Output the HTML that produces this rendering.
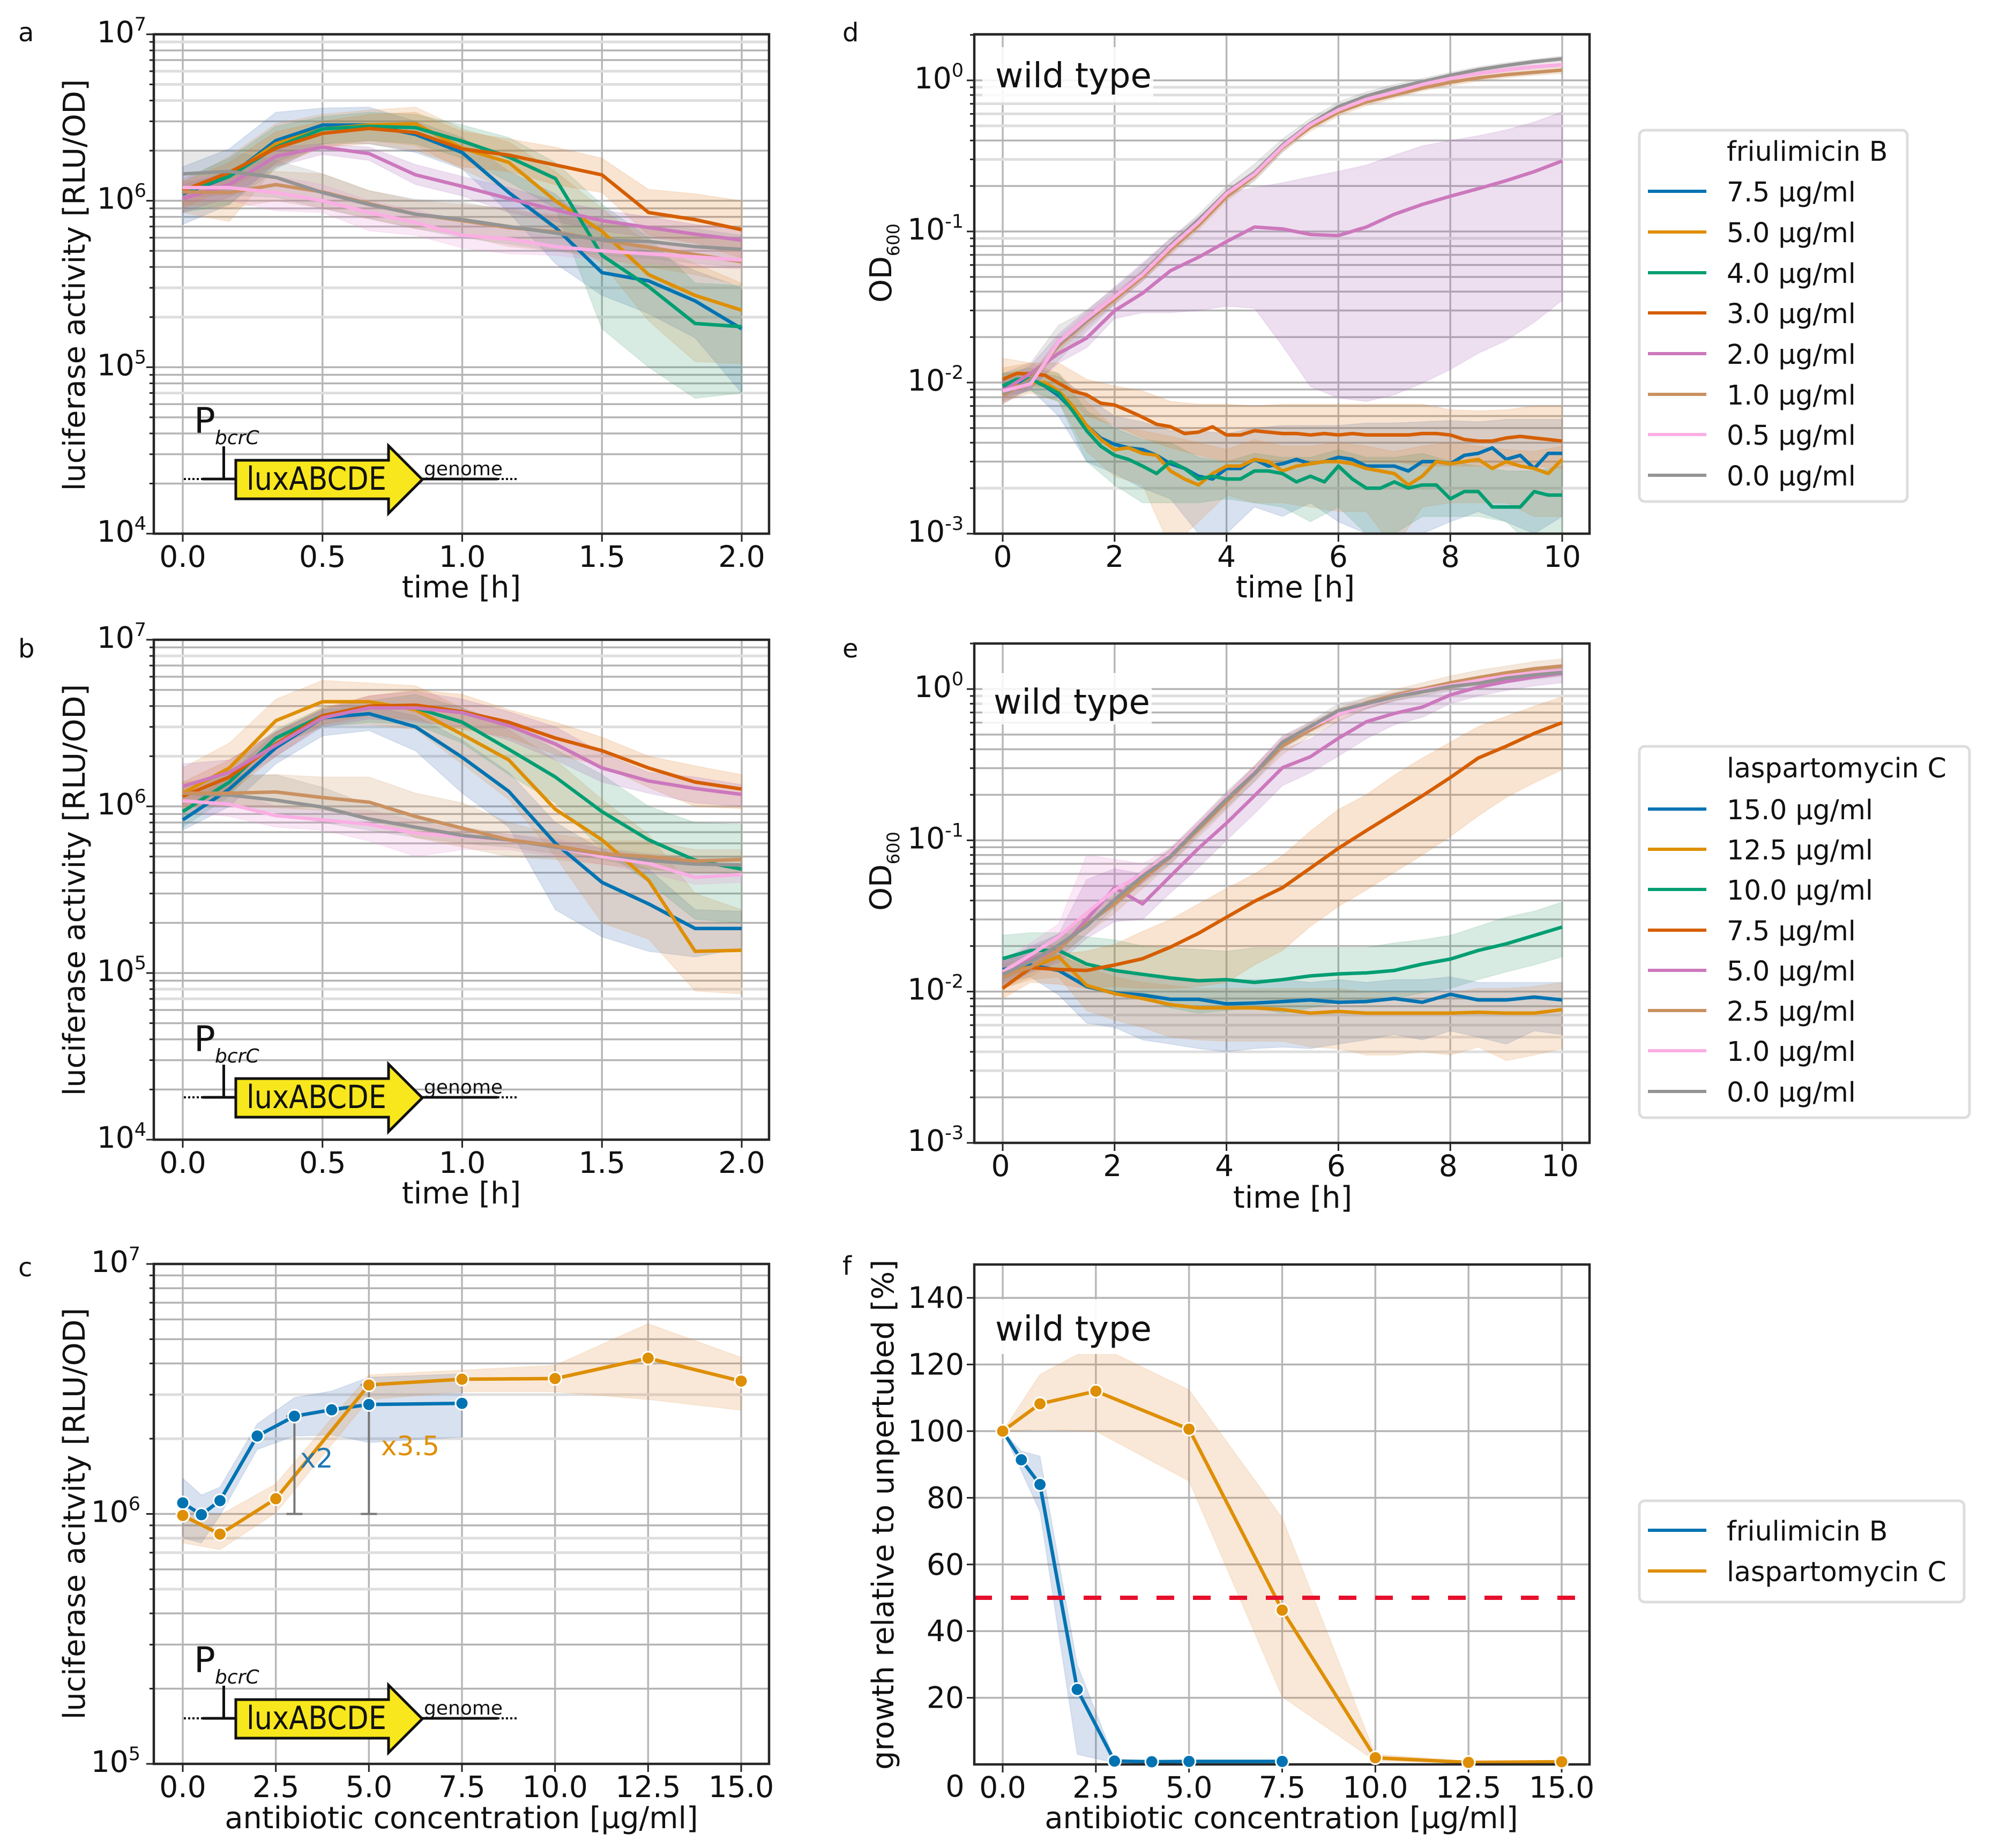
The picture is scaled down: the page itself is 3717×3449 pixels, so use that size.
<!DOCTYPE html>
<html lang="en">
<head>
<meta charset="utf-8">
<title>Luciferase activity and growth under friulimicin B and laspartomycin C</title>
<style>
html,body{margin:0;padding:0;background:#fff}
svg{display:block;position:absolute;left:0;top:0}
text{font-family:"DejaVu Sans","Liberation Sans",sans-serif;fill:#111}
.axt{font-size:55.7px}
.let{font-size:48px}
.leg{font-size:50.5px}
.wt{font-size:64px}
</style>
</head>
<body>
<svg id="figure" width="3717" height="3449" viewBox="0 0 3717 3449" xmlns="http://www.w3.org/2000/svg">
<rect x="0" y="0" width="3717" height="3449" fill="#fff"/>
<g id="marks"></g>

<!-- panel letters -->
<text class="let" x="34" y="77">a</text>
<text class="let" x="34" y="1227">b</text>
<text class="let" x="34" y="2382">c</text>
<text class="let" x="1572" y="77">d</text>
<text class="let" x="1572" y="1227">e</text>
<text class="let" x="1572" y="2379">f</text>

<!-- axis titles -->
<text class="axt" transform="translate(158,532) rotate(-90)" text-anchor="middle">luciferase activity [RLU/OD]</text>
<text class="axt" transform="translate(158,1661) rotate(-90)" text-anchor="middle">luciferase activity [RLU/OD]</text>
<text class="axt" transform="translate(158,2825) rotate(-90)" text-anchor="middle">luciferase acitvity [RLU/OD]</text>
<text class="axt" transform="translate(1663,491) rotate(-90)" text-anchor="middle">OD<tspan dy="15" font-size="32">600</tspan></text>
<text class="axt" transform="translate(1663,1626) rotate(-90)" text-anchor="middle">OD<tspan dy="15" font-size="32">600</tspan></text>
<text class="axt" transform="translate(1667,2827) rotate(-90)" text-anchor="middle">growth relative to unpertubed [%]</text>
<text class="axt" x="861" y="1115" text-anchor="middle">time [h]</text>
<text class="axt" x="861" y="2246" text-anchor="middle">time [h]</text>
<text class="axt" x="861" y="3412" text-anchor="middle">antibiotic concentration [µg/ml]</text>
<text class="axt" x="2417" y="1115" text-anchor="middle">time [h]</text>
<text class="axt" x="2412" y="2254" text-anchor="middle">time [h]</text>
<text class="axt" x="2391" y="3412" text-anchor="middle">antibiotic concentration [µg/ml]</text>
<text class="axt" x="1782" y="3353" text-anchor="middle">0</text>

<!-- annotations panel c -->
<text x="560" y="2739" font-size="50" style="fill:#1f78b4">x2</text>
<text x="711" y="2716" font-size="50" style="fill:#de8f05">x3.5</text>

<!-- wild type labels -->
<g>
<rect x="1833" y="88" width="319" height="103" fill="#fff" fill-opacity="0.85"/>
<text class="wt" x="1857" y="163">wild type</text>
</g>
<g>
<rect x="1833" y="1256" width="316" height="96" fill="#fff" fill-opacity="0.85"/>
<text class="wt" x="1854" y="1332">wild type</text>
</g>
<g>
<rect x="1833" y="2425" width="319" height="102" fill="#fff" fill-opacity="0.92"/>
<text class="wt" x="1857" y="2502">wild type</text>
</g>

<!-- schematics -->
<g>
<line x1="343" y1="894" x2="378" y2="894" stroke="#111" stroke-width="4" stroke-dasharray="4 4"/>
<line x1="378" y1="894" x2="440" y2="894" stroke="#111" stroke-width="5"/>
<line x1="417.5" y1="833" x2="417.5" y2="894" stroke="#111" stroke-width="5"/>
<polygon points="440,859 725,859 725,832 788,895 725,958 725,931 440,931" fill="#f8e71c" stroke="#111" stroke-width="5"/>
<line x1="788" y1="894" x2="928" y2="894" stroke="#111" stroke-width="5"/>
<line x1="928" y1="894" x2="968" y2="894" stroke="#111" stroke-width="4" stroke-dasharray="4 4"/>
<text x="362" y="808" font-size="66">P</text>
<text x="401" y="829" font-size="36" font-style="italic">bcrC</text>
<text x="460" y="914" font-size="60" textLength="261" lengthAdjust="spacingAndGlyphs">luxABCDE</text>
<text x="791" y="887" font-size="36">genome</text>
</g>
<g transform="translate(0,1154)">
<line x1="343" y1="894" x2="378" y2="894" stroke="#111" stroke-width="4" stroke-dasharray="4 4"/>
<line x1="378" y1="894" x2="440" y2="894" stroke="#111" stroke-width="5"/>
<line x1="417.5" y1="833" x2="417.5" y2="894" stroke="#111" stroke-width="5"/>
<polygon points="440,859 725,859 725,832 788,895 725,958 725,931 440,931" fill="#f8e71c" stroke="#111" stroke-width="5"/>
<line x1="788" y1="894" x2="928" y2="894" stroke="#111" stroke-width="5"/>
<line x1="928" y1="894" x2="968" y2="894" stroke="#111" stroke-width="4" stroke-dasharray="4 4"/>
<text x="362" y="808" font-size="66">P</text>
<text x="401" y="829" font-size="36" font-style="italic">bcrC</text>
<text x="460" y="914" font-size="60" textLength="261" lengthAdjust="spacingAndGlyphs">luxABCDE</text>
<text x="791" y="887" font-size="36">genome</text>
</g>
<g transform="translate(0,2313)">
<line x1="343" y1="894" x2="378" y2="894" stroke="#111" stroke-width="4" stroke-dasharray="4 4"/>
<line x1="378" y1="894" x2="440" y2="894" stroke="#111" stroke-width="5"/>
<line x1="417.5" y1="833" x2="417.5" y2="894" stroke="#111" stroke-width="5"/>
<polygon points="440,859 725,859 725,832 788,895 725,958 725,931 440,931" fill="#f8e71c" stroke="#111" stroke-width="5"/>
<line x1="788" y1="894" x2="928" y2="894" stroke="#111" stroke-width="5"/>
<line x1="928" y1="894" x2="968" y2="894" stroke="#111" stroke-width="4" stroke-dasharray="4 4"/>
<text x="362" y="808" font-size="66">P</text>
<text x="401" y="829" font-size="36" font-style="italic">bcrC</text>
<text x="460" y="914" font-size="60" textLength="261" lengthAdjust="spacingAndGlyphs">luxABCDE</text>
<text x="791" y="887" font-size="36">genome</text>
</g>

<!-- legends -->
<g>
<rect x="3059" y="243" width="500" height="693" rx="10" fill="#fff" stroke="#ddd" stroke-width="5"/>
<text class="leg" x="3222" y="300">friulimicin B</text>
<g><line x1="3075" x2="3184" y1="357" y2="357" stroke="#0173b2" stroke-width="6"/><text class="leg" x="3222" y="376">7.5 µg/ml</text></g>
<g><line x1="3075" x2="3184" y1="433" y2="433" stroke="#de8f05" stroke-width="6"/><text class="leg" x="3222" y="452">5.0 µg/ml</text></g>
<g><line x1="3075" x2="3184" y1="509" y2="509" stroke="#029e73" stroke-width="6"/><text class="leg" x="3222" y="528">4.0 µg/ml</text></g>
<g><line x1="3075" x2="3184" y1="584" y2="584" stroke="#d55e00" stroke-width="6"/><text class="leg" x="3222" y="603">3.0 µg/ml</text></g>
<g><line x1="3075" x2="3184" y1="660" y2="660" stroke="#cc78bc" stroke-width="6"/><text class="leg" x="3222" y="679">2.0 µg/ml</text></g>
<g><line x1="3075" x2="3184" y1="736" y2="736" stroke="#ca9161" stroke-width="6"/><text class="leg" x="3222" y="755">1.0 µg/ml</text></g>
<g><line x1="3075" x2="3184" y1="811" y2="811" stroke="#fbafe4" stroke-width="6"/><text class="leg" x="3222" y="830">0.5 µg/ml</text></g>
<g><line x1="3075" x2="3184" y1="887" y2="887" stroke="#949494" stroke-width="6"/><text class="leg" x="3222" y="906">0.0 µg/ml</text></g>
</g>
<g>
<rect x="3059" y="1393" width="616" height="693" rx="10" fill="#fff" stroke="#ddd" stroke-width="5"/>
<text class="leg" x="3222" y="1451">laspartomycin C</text>
<g><line x1="3075" x2="3184" y1="1510" y2="1510" stroke="#0173b2" stroke-width="6"/><text class="leg" x="3222" y="1529">15.0 µg/ml</text></g>
<g><line x1="3075" x2="3184" y1="1585" y2="1585" stroke="#de8f05" stroke-width="6"/><text class="leg" x="3222" y="1604">12.5 µg/ml</text></g>
<g><line x1="3075" x2="3184" y1="1660" y2="1660" stroke="#029e73" stroke-width="6"/><text class="leg" x="3222" y="1679">10.0 µg/ml</text></g>
<g><line x1="3075" x2="3184" y1="1736" y2="1736" stroke="#d55e00" stroke-width="6"/><text class="leg" x="3222" y="1755">7.5 µg/ml</text></g>
<g><line x1="3075" x2="3184" y1="1811" y2="1811" stroke="#cc78bc" stroke-width="6"/><text class="leg" x="3222" y="1830">5.0 µg/ml</text></g>
<g><line x1="3075" x2="3184" y1="1886" y2="1886" stroke="#ca9161" stroke-width="6"/><text class="leg" x="3222" y="1905">2.5 µg/ml</text></g>
<g><line x1="3075" x2="3184" y1="1961" y2="1961" stroke="#fbafe4" stroke-width="6"/><text class="leg" x="3222" y="1980">1.0 µg/ml</text></g>
<g><line x1="3075" x2="3184" y1="2037" y2="2037" stroke="#949494" stroke-width="6"/><text class="leg" x="3222" y="2056">0.0 µg/ml</text></g>
</g>
<g>
<rect x="3059" y="2801" width="606" height="189" rx="10" fill="#fff" stroke="#ddd" stroke-width="5"/>
<g><line x1="3075" x2="3184" y1="2856" y2="2856" stroke="#0173b2" stroke-width="6"/><text class="leg" x="3222" y="2875">friulimicin B</text></g>
<g><line x1="3075" x2="3184" y1="2932" y2="2932" stroke="#de8f05" stroke-width="6"/><text class="leg" x="3222" y="2951">laspartomycin C</text></g>
</g>
</svg>

<script>
/* ---------- shared ticks ---------- */
const timeTicks2h = [0, 0.5, 1, 1.5, 2];
const timeTickLabels2h = ['0.0', '0.5', '1.0', '1.5', '2.0'];
const timeTicks10h = [0, 2, 4, 6, 8, 10];
const timeTickLabels10h = ['0', '2', '4', '6', '8', '10'];
const concTicks = [0, 2.5, 5, 7.5, 10, 12.5, 15];
const concTickLabels = ['0.0', '2.5', '5.0', '7.5', '10.0', '12.5', '15.0'];
const rluDecades = [4, 5, 6, 7];
const rluDecadesC = [5, 6, 7];
const odDecades = [-3, -2, -1, 0];
const growthTicks = [20, 40, 60, 80, 100, 120, 140];
const rluUnit = 1e6;

/* ---------- panel a (values in 1e6 RLU/OD) ---------- */
const aTimes = [0, 0.1667, 0.3333, 0.5, 0.6667, 0.8333, 1, 1.1667, 1.3333, 1.5, 1.6667, 1.8333, 2];
const aMean75 = [1.1, 1.4, 2.3, 2.85, 2.85, 2.5, 1.95, 1.12, 0.69, 0.37, 0.33, 0.25, 0.17];
const aLo75 = [0.72, 0.95, 1.7, 2.2, 2.2, 1.95, 1.55, 0.85, 0.42, 0.27, 0.21, 0.15, 0.07];
const aHi75 = [1.6, 2.05, 3.4, 3.6, 3.65, 3.0, 2.4, 1.5, 1.1, 0.62, 0.5, 0.38, 0.3];
const aMean50 = [1.12, 1.42, 2.2, 2.7, 2.85, 2.9, 2.07, 1.7, 1.0, 0.655, 0.36, 0.27, 0.22];
const aLo50 = [0.85, 0.75, 1.6, 2.1, 2.3, 2.15, 1.55, 1.15, 0.65, 0.42, 0.19, 0.108, 0.105];
const aHi50 = [1.3, 1.85, 2.9, 3.3, 3.5, 3.65, 2.7, 2.25, 1.5, 0.9, 0.55, 0.42, 0.32];
const aMean40 = [1.13, 1.4, 2.1, 2.7, 2.8, 2.75, 2.28, 1.83, 1.36, 0.47, 0.305, 0.183, 0.175];
const aLo40 = [0.85, 0.95, 1.55, 2.2, 2.3, 2.2, 1.8, 1.3, 0.9, 0.17, 0.1, 0.065, 0.07];
const aHi40 = [1.35, 1.8, 2.8, 3.2, 3.4, 3.3, 2.85, 2.4, 1.7, 0.95, 0.6, 0.32, 0.31];
const aMean30 = [1.15, 1.48, 2.07, 2.54, 2.72, 2.57, 2.05, 1.88, 1.64, 1.43, 0.85, 0.77, 0.67];
const aLo30 = [0.9, 1.2, 1.65, 2.1, 2.2, 2.0, 1.6, 1.5, 1.25, 1.12, 0.62, 0.56, 0.45];
const aHi30 = [1.3, 1.7, 2.6, 3.0, 3.3, 3.4, 2.6, 2.35, 2.1, 1.8, 1.17, 1.1, 1.0];
const aMean20 = [1.03, 1.25, 1.85, 2.1, 1.92, 1.43, 1.22, 1.03, 0.88, 0.76, 0.69, 0.63, 0.58];
const aLo20 = [0.85, 1.05, 1.6, 1.9, 1.75, 1.25, 1.07, 0.85, 0.75, 0.66, 0.6, 0.55, 0.5];
const aHi20 = [1.25, 1.5, 2.1, 2.2, 2.1, 1.65, 1.4, 1.2, 1.0, 0.88, 0.8, 0.72, 0.67];
const aMean10 = [1.13, 1.12, 1.25, 1.13, 0.96, 0.83, 0.76, 0.69, 0.65, 0.58, 0.525, 0.475, 0.43];
const aLo10 = [0.95, 0.9, 1.0, 0.9, 0.78, 0.68, 0.62, 0.53, 0.5, 0.45, 0.4, 0.36, 0.31];
const aHi10 = [1.3, 1.4, 1.5, 1.45, 1.15, 1.0, 0.95, 0.9, 0.82, 0.75, 0.7, 0.62, 0.58];
const aMean05 = [1.2, 1.2, 1.12, 1.0, 0.85, 0.74, 0.62, 0.59, 0.53, 0.5, 0.48, 0.46, 0.44];
const aLo05 = [1.0, 1.0, 0.87, 0.85, 0.66, 0.62, 0.52, 0.48, 0.47, 0.44, 0.42, 0.4, 0.39];
const aHi05 = [1.4, 1.4, 1.4, 1.25, 1.0, 0.88, 0.75, 0.68, 0.6, 0.57, 0.55, 0.53, 0.5];
const aMean00 = [1.45, 1.5, 1.38, 1.12, 0.95, 0.83, 0.77, 0.7, 0.64, 0.58, 0.57, 0.53, 0.51];
const aLo00 = [1.05, 1.08, 1.05, 0.9, 0.78, 0.68, 0.6, 0.55, 0.5, 0.47, 0.45, 0.42, 0.4];
const aHi00 = [2.0, 2.0, 1.75, 1.45, 1.15, 1.02, 0.98, 0.88, 0.8, 0.72, 0.7, 0.68, 0.62];

/* ---------- panel b (values in 1e6 RLU/OD) ---------- */
const bTimes = [0, 0.1667, 0.3333, 0.5, 0.6667, 0.8333, 1, 1.1667, 1.3333, 1.5, 1.6667, 1.8333, 2];
const bMean150 = [0.83, 1.27, 2.25, 3.4, 3.6, 3.0, 1.97, 1.23, 0.6, 0.35, 0.26, 0.185, 0.185];
const bLo150 = [0.72, 1.0, 1.8, 2.65, 2.85, 2.15, 1.2, 0.75, 0.24, 0.165, 0.135, 0.125, 0.14];
const bHi150 = [0.95, 1.55, 2.8, 3.8, 4.0, 3.5, 2.5, 1.6, 0.8, 0.55, 0.42, 0.24, 0.235];
const bMean125 = [1.2, 1.7, 3.27, 4.25, 4.25, 3.8, 2.7, 1.9, 0.96, 0.63, 0.36, 0.135, 0.137];
const bLo125 = [0.85, 1.2, 2.3, 3.1, 3.1, 2.9, 1.8, 1.1, 0.5, 0.2, 0.16, 0.078, 0.075];
const bHi125 = [1.7, 2.4, 4.4, 5.7, 5.5, 5.3, 3.9, 2.9, 1.9, 1.1, 0.68, 0.3, 0.24];
const bMean100 = [0.93, 1.4, 2.57, 3.5, 3.9, 3.9, 3.2, 2.2, 1.5, 0.93, 0.63, 0.475, 0.42];
const bLo100 = [0.75, 1.15, 2.3, 3.0, 3.2, 3.1, 2.4, 1.55, 1.05, 0.55, 0.35, 0.21, 0.2];
const bHi100 = [1.1, 1.7, 2.9, 3.9, 4.3, 4.7, 3.9, 3.1, 2.2, 1.55, 1.0, 0.8, 0.78];
const bMean75 = [1.15, 1.5, 2.37, 3.5, 4.0, 4.05, 3.7, 3.2, 2.57, 2.16, 1.7, 1.4, 1.27];
const bLo75 = [0.95, 1.2, 2.0, 3.1, 3.5, 3.3, 2.9, 2.6, 2.05, 1.75, 1.3, 1.0, 0.97];
const bHi75 = [1.4, 1.9, 2.8, 3.9, 4.6, 5.0, 4.7, 3.8, 3.2, 2.6, 2.0, 1.75, 1.55];
const bMean50 = [1.32, 1.6, 2.33, 3.4, 3.9, 3.9, 3.65, 3.05, 2.37, 1.7, 1.42, 1.28, 1.18];
const bLo50 = [1.0, 1.3, 2.0, 3.0, 3.35, 3.2, 3.0, 2.5, 1.9, 1.4, 1.2, 1.05, 1.0];
const bHi50 = [1.8, 1.9, 2.8, 3.8, 4.6, 4.9, 4.4, 3.7, 3.0, 2.1, 1.6, 1.5, 1.35];
const bMean25 = [1.2, 1.2, 1.22, 1.13, 1.06, 0.87, 0.74, 0.63, 0.58, 0.52, 0.5, 0.47, 0.48];
const bLo25 = [1.0, 1.0, 0.98, 0.95, 0.85, 0.65, 0.57, 0.5, 0.48, 0.45, 0.42, 0.4, 0.4];
const bHi25 = [1.4, 1.5, 1.55, 1.5, 1.5, 1.2, 1.05, 0.8, 0.68, 0.62, 0.62, 0.55, 0.55];
const bMean10 = [1.08, 1.03, 0.88, 0.83, 0.78, 0.69, 0.66, 0.63, 0.57, 0.5, 0.455, 0.375, 0.39];
const bLo10 = [0.92, 0.87, 0.75, 0.72, 0.62, 0.5, 0.55, 0.55, 0.5, 0.45, 0.4, 0.34, 0.35];
const bHi10 = [1.25, 1.25, 1.0, 0.95, 0.95, 0.82, 0.72, 0.68, 0.64, 0.56, 0.5, 0.43, 0.44];
const bMean00 = [1.2, 1.17, 1.09, 0.99, 0.84, 0.75, 0.67, 0.63, 0.57, 0.52, 0.475, 0.45, 0.445];
const bLo00 = [1.05, 1.0, 0.92, 0.8, 0.72, 0.65, 0.6, 0.57, 0.52, 0.48, 0.42, 0.4, 0.4];
const bHi00 = [1.35, 1.55, 1.55, 1.3, 1.02, 0.85, 0.75, 0.68, 0.62, 0.56, 0.52, 0.5, 0.5];

/* ---------- panel c (values in 1e6 RLU/OD) ---------- */
const cConcFriu = [0, 0.5, 1, 2, 3, 4, 5, 7.5];
const cMeanFriu = [1.107, 0.993, 1.13, 2.05, 2.46, 2.61, 2.74, 2.77];
const cLoFriu = [0.8, 0.766, 0.985, 1.81, 2.05, 2.07, 1.93, 2.03];
const cHiFriu = [1.39, 1.19, 1.28, 2.29, 2.92, 3.1, 3.52, 3.63];
const cConcLasp = [0, 1, 2.5, 5, 7.5, 10, 12.5, 15];
const cMeanLasp = [0.986, 0.83, 1.15, 3.28, 3.46, 3.48, 4.2, 3.4];
const cLoLasp = [0.766, 0.72, 1.01, 2.87, 3.08, 3.08, 2.87, 2.6];
const cHiLasp = [1.03, 0.99, 1.32, 3.6, 3.76, 3.93, 5.77, 4.23];
const cErrConc = [3, 5];
const cErrTop = [2.46, 3.28];
const cErrBottom = [1.0, 1.0];

/* ---------- panel d (OD600) ---------- */
const dTimes = [0, 0.5, 1, 1.5, 2, 2.5, 3, 3.5, 4, 4.5, 5, 5.5, 6, 6.5, 7, 7.5, 8, 8.5, 9, 9.5, 10];
const dTimesFine = [0, 0.25, 0.5, 0.75, 1, 1.25, 1.5, 1.75, 2, 2.25, 2.5, 2.75, 3, 3.25, 3.5, 3.75, 4, 4.25, 4.5, 4.75, 5, 5.25, 5.5, 5.75, 6, 6.25, 6.5, 6.75, 7, 7.25, 7.5, 7.75, 8, 8.25, 8.5, 8.75, 9, 9.25, 9.5, 9.75, 10];
const dMean75 = [.0095,.0100,.0105,.0095,.0082,.0066,.0052,.0043,.0039,.0037,.0036,.0033,.0029,.0027,.0024,.0023,.0027,.0027,.0031,.0028,.0029,.0031,.0029,.0030,.0032,.0031,.0028,.0028,.0028,.0026,.0030,.0030,.0029,.0033,.0034,.0037,.0031,.0033,.0027,.0034,.0034];
const dLo75 = [.0080,.0090,.0060,.0030,.0025,.0020,.0017,.0010,.0010,.0015,.0013,.0016,.0012,.0010,.0008,.0010,.0012,.0014,.0012,.0010,.0013];
const dHi75 = [.0115,.0118,.0110,.0080,.0060,.0055,.0048,.0048,.0046,.0050,.0052,.0052,.0052,.0054,.0054,.0055,.0056,.0055,.0057,.0057,.0057];
const dMean50 = [.0085,.0095,.0100,.0100,.0088,.0070,.0052,.0042,.0036,.0037,.0034,.0033,.0026,.0023,.0021,.0025,.0028,.0028,.0031,.0030,.0026,.0028,.0029,.0030,.0030,.0029,.0027,.0026,.0025,.0021,.0024,.0030,.0029,.0030,.0031,.0027,.0030,.0028,.0027,.0025,.0031];
const dLo50 = [.0075,.0085,.0075,.0035,.0024,.0021,.0008,.0012,.0018,.0016,.0016,.0015,.0014,.0014,.0008,.0015,.0016,.0016,.0016,.0013,.0013];
const dHi50 = [.0145,.0135,.0115,.0075,.0050,.0048,.0044,.0040,.0036,.0042,.0038,.0038,.0040,.0038,.0035,.0038,.0040,.0038,.0036,.0035,.0038];
const dMean40 = [.0095,.0105,.0106,.0095,.0085,.0065,.0048,.0038,.0033,.0031,.0028,.0025,.0030,.0027,.0023,.0024,.0023,.0023,.0026,.0026,.0025,.0022,.0024,.0022,.0028,.0023,.0020,.0020,.0022,.0020,.0021,.0021,.0017,.0019,.0019,.0015,.0015,.0015,.0019,.0018,.0018];
const dLo40 = [.0080,.0088,.0075,.0030,.0021,.0016,.0016,.0016,.0017,.0016,.0015,.0012,.0015,.0010,.0010,.0013,.0013,.0013,.0012,.0008,.0010];
const dHi40 = [.0115,.0125,.0115,.0065,.0050,.0042,.0040,.0032,.0030,.0034,.0032,.0032,.0036,.0032,.0032,.0034,.0030,.0028,.0026,.0026,.0028];
const dMean30 = [.0105,.0115,.0114,.0112,.0099,.0088,.0083,.0073,.0071,.0065,.0059,.0053,.0051,.0046,.0047,.0051,.0045,.0045,.0048,.0047,.0046,.0046,.0045,.0046,.0045,.0046,.0045,.0045,.0045,.0045,.0046,.0046,.0045,.0042,.0041,.0041,.0043,.0044,.0043,.0042,.0041];
const dLo30 = [.0085,.0095,.0090,.0060,.0052,.0043,.0037,.0033,.0030,.0030,.0030,.0030,.0030,.0030,.0030,.0028,.0028,.0028,.0028,.0028,.0027];
const dHi30 = [.0125,.0135,.0135,.0105,.0095,.0088,.0075,.0072,.0072,.0070,.0072,.0072,.0072,.0072,.0072,.0072,.0066,.0065,.0066,.0070,.0070];
const dMean20 = [.0088,.0115,.0156,.0197,.0299,.039,.055,.0675,.0857,.107,.104,.0955,.094,.107,.13,.151,.171,.192,.217,.249,.293];
const dLo20 = [.0072,.0092,.0135,.017,.0265,.029,.029,.03,.032,.031,.0175,.0094,.0079,.0075,.0083,.0099,.0122,.0156,.019,.025,.035];
const dHi20 = [.0105,.013,.021,.03,.043,.062,.09,.125,.18,.195,.21,.23,.25,.275,.32,.368,.4,.43,.47,.53,.62];
const dMean10 = [.0082,.0105,.0175,.0255,.0355,.0505,.076,.11,.17,.235,.36,.49,.615,.72,.80,.89,.97,1.04,1.09,1.13,1.17];
const dLo10 = [.0072,.0095,.016,.0235,.033,.047,.07,.102,.158,.22,.335,.46,.58,.68,.76,.85,.92,.99,1.04,1.08,1.11];
const dHi10 = [.0095,.0115,.019,.0275,.038,.054,.082,.118,.182,.25,.385,.52,.65,.76,.84,.93,1.02,1.09,1.14,1.19,1.23];
const dMean05 = [.0088,.0098,.0185,.0265,.037,.052,.079,.115,.178,.24,.365,.51,.638,.75,.835,.94,1.03,1.11,1.176,1.23,1.27];
const dLo05 = [.0080,.009,.017,.024,.034,.048,.073,.107,.166,.225,.345,.485,.61,.72,.805,.91,1.0,1.08,1.14,1.19,1.23];
const dHi05 = [.0095,.0108,.02,.029,.04,.056,.085,.123,.19,.255,.385,.535,.665,.78,.865,.97,1.06,1.14,1.21,1.27,1.31];
const dMean00 = [.0085,.0102,.018,.026,.037,.053,.0807,.119,.181,.245,.372,.517,.669,.787,.887,.98,1.08,1.176,1.255,1.33,1.39];
const dLo00 = [.0075,.009,.014,.022,.033,.047,.072,.107,.165,.215,.335,.48,.62,.74,.84,.93,1.03,1.12,1.2,1.28,1.33];
const dHi00 = [.0115,.0135,.024,.03,.042,.06,.09,.13,.2,.28,.41,.56,.72,.84,.94,1.03,1.13,1.23,1.31,1.38,1.45];

/* ---------- panel e (OD600) ---------- */
const eTimes = [0, 0.5, 1, 1.5, 2, 2.5, 3, 3.5, 4, 4.5, 5, 5.5, 6, 6.5, 7, 7.5, 8, 8.5, 9, 9.5, 10];
const eMean150 = [.014,.015,.0138,.0108,.0098,.0095,.0089,.0089,.0083,.0084,.0086,.0088,.0085,.0086,.0090,.0085,.0096,.0088,.0088,.0092,.0088];
const eLo150 = [.0115,.0125,.0095,.0062,.0058,.0048,.0045,.0042,.004,.0042,.0043,.0042,.0045,.0048,.0052,.0048,.0055,.005,.0045,.0055,.0052];
const eHi150 = [.017,.018,.0175,.0145,.0135,.0125,.012,.0115,.012,.012,.012,.0115,.012,.0115,.012,.012,.0125,.0115,.0115,.0115,.0115];
const eMean125 = [.0135,.0145,.017,.0110,.0097,.0090,.0082,.0078,.0078,.0078,.0076,.0072,.0074,.0072,.0072,.0072,.0072,.0073,.0072,.0072,.0076];
const eLo125 = [.0105,.012,.0125,.0075,.0065,.0058,.005,.0048,.0047,.0047,.0047,.0043,.0042,.0038,.0038,.004,.0038,.0043,.0035,.0038,.0042];
const eHi125 = [.016,.0175,.02,.0145,.0125,.0115,.011,.0105,.0105,.0105,.0105,.0105,.0105,.01,.0098,.0098,.0098,.0105,.0105,.0108,.0115];
const eMean100 = [.0165,.0187,.0187,.0152,.0138,.013,.0123,.0118,.012,.0115,.012,.0127,.0131,.0133,.0138,.0152,.0164,.0187,.0207,.0235,.0267];
const eLo100 = [.012,.0145,.0135,.0105,.0095,.009,.0078,.0072,.0075,.0078,.0072,.0078,.0085,.0088,.009,.0098,.0105,.012,.0135,.015,.017];
const eHi100 = [.0236,.0245,.0245,.023,.022,.02,.0195,.019,.0185,.0195,.0195,.0195,.0195,.0195,.021,.022,.0235,.027,.031,.034,.039];
const eMean75 = [.0105,.0144,.014,.0138,.015,.0165,.0197,.0243,.031,.0395,.0486,.0655,.0886,.116,.151,.197,.26,.35,.419,.509,.6];
const eLo75 = [.009,.0115,.0112,.0105,.0108,.0105,.0105,.0108,.0115,.015,.0187,.027,.0365,.047,.0613,.08,.106,.145,.192,.24,.293];
const eHi75 = [.0125,.0175,.0178,.0185,.0205,.025,.03,.038,.048,.06,.079,.115,.16,.2,.27,.35,.445,.565,.66,.77,.89];
const eMean50 = [.0128,.0165,.0187,.03,.0486,.038,.058,.0886,.13,.197,.302,.357,.473,.608,.69,.76,.914,1.03,1.12,1.2,1.27];
const eLo50 = [.0105,.0135,.0155,.0225,.029,.03,.045,.066,.1,.15,.23,.28,.36,.47,.58,.65,.8,.9,.98,1.05,1.1];
const eHi50 = [.016,.02,.024,.055,.065,.06,.075,.115,.17,.27,.4,.47,.62,.75,.85,.9,1.05,1.2,1.3,1.4,1.45];
const eMean25 = [.0125,.0145,.019,.028,.038,.055,.078,.118,.18,.275,.42,.54,.68,.81,.91,1.0,1.1,1.19,1.28,1.36,1.42];
const eLo25 = [.0105,.0125,.0165,.024,.033,.048,.07,.105,.16,.245,.37,.49,.61,.74,.84,.92,1.0,1.07,1.15,1.22,1.28];
const eHi25 = [.015,.017,.022,.032,.043,.062,.088,.13,.2,.31,.47,.6,.75,.88,.99,1.1,1.22,1.33,1.42,1.52,1.58];
const eMean10 = [.0135,.0175,.023,.033,.047,.06,.082,.125,.19,.285,.45,.56,.68,.79,.89,.98,1.06,1.14,1.22,1.28,1.32];
const eLo10 = [.012,.015,.02,.027,.038,.052,.074,.115,.175,.26,.41,.52,.63,.74,.84,.93,1.01,1.09,1.16,1.22,1.26];
const eHi10 = [.016,.021,.028,.08,.075,.07,.09,.135,.205,.31,.49,.6,.74,.84,.94,1.03,1.11,1.2,1.28,1.34,1.38];
const eMean00 = [.013,.0158,.0203,.0272,.0405,.058,.0786,.122,.187,.277,.445,.566,.72,.8,.887,.96,1.04,1.09,1.18,1.24,1.29];
const eLo00 = [.011,.0135,.017,.024,.036,.052,.07,.11,.165,.245,.4,.52,.66,.74,.83,.9,.97,1.02,1.1,1.16,1.21];
const eHi00 = [.0155,.019,.024,.031,.045,.064,.088,.135,.21,.31,.49,.61,.8,.87,.95,1.03,1.12,1.17,1.27,1.33,1.38];

/* ---------- panel f (% growth) ---------- */
const fConcFriu = [0, 0.5, 1, 2, 3, 4, 5, 7.5];
const fMeanFriu = [100, 91.4, 84, 22.5, 1, 0.8, 0.9, 0.9];
const fLoFriu = [100, 88, 75.8, 3, 0.5, 0.5, 0.5, 0.5];
const fHiFriu = [100, 94, 92.5, 30, 1.5, 1.2, 1.3, 1.3];
const fConcLasp = [0, 1, 2.5, 5, 7.5, 10, 12.5, 15];
const fMeanLasp = [100, 108.2, 112, 100.6, 46.3, 2, 0.6, 0.8];
const fLoLasp = [100, 100.5, 100, 85, 20.3, 1, 0.4, 0.6];
const fHiLasp = [100, 117, 126, 112.4, 74, 3, 1, 1];
const fThreshold = [50];

/* ---------- grid lines drawn faint in the reference ---------- */
const aLightGrid = [1e7, 9e6, 6e6, 5e6, 4e6, 3e5, 2e5, 7e4];
const bLightGrid = [8e6, 3e6, 2e6, 8e4, 7e4];
const cLightGrid = [3e6, 2e6, 8e5, 7e5, 5e5];
const dLightGrid = [0.9, 0.8, 0.7, 0.6, 0.5, 0.3, 0.09, 0.002];
const eLightGrid = [0.9, 0.8, 0.007, 0.006, 0.005, 0.004, 0.003];

/* ---------- drawing ---------- */
const lineColors = {blue:'#0173b2', orange:'#de8f05', green:'#029e73', verm:'#d55e00', purple:'#cc78bc', brown:'#ca9161', pink:'#fbafe4', gray:'#949494'};
const bandColors = {blue:'#3a6ab0', orange:'#e08a3a', green:'#3d9a6e', verm:'#e07a20', purple:'#a45fb5', brown:'#c98a50', pink:'#e58ad0', gray:'#8a8a8a'};
const SVGNS = 'http://www.w3.org/2000/svg';
const marks = document.getElementById('marks');

function mk(tag, attrs, parent) {
  const el = document.createElementNS(SVGNS, tag);
  for (const k in attrs) el.setAttribute(k, attrs[k]);
  parent.appendChild(el);
  return el;
}
function label(el, name, interactive) {
  
  
}
function linearX(p) {
  return v => p.x0 + (v - p.xa) * (p.x1 - p.x0) / (p.xb - p.xa);
}
function logY(p) {
  return v => p.yTop + (p.logTop - Math.log10(v)) * (p.yBot - p.yTop) / (p.logTop - p.logBot);
}
function linY(p) {
  return v => p.yBot - (v - p.vBot) * (p.yBot - p.yTop) / (p.vTop - p.vBot);
}
function polyPoints(xs, ys, sx, sy, k) {
  return xs.map((x, i) => sx(x).toFixed(1) + ',' + sy(ys[i] * k).toFixed(1)).join(' ');
}

function drawFrame(p) {
  const g = mk('g', {}, marks);
  label(g, 'panel-' + p.id + '-axes', false);
  const sx = linearX(p);
  const sy = p.log ? logY(p) : linY(p);
  const gridG = mk('g', {}, g);
  label(gridG, 'grid-' + p.id, false);
  p.xTicks.forEach(t => {
    mk('line', {x1: sx(t), x2: sx(t), y1: p.top, y2: p.bottom, stroke: '#b8b8b8', 'stroke-width': 3.5}, gridG);
  });
  const yGridVals = [];
  if (p.log) {
    p.decades.forEach(d => {
      for (let m = 1; m <= 9; m++) {
        const v = m * Math.pow(10, d);
        const val = sy(v);
        if (val >= p.top - 1 && val <= p.bottom + 1) yGridVals.push({v: v, m: m, y: val});
      }
    });
  } else {
    p.yTicks.forEach(v => yGridVals.push({v: v, m: 1, y: sy(v)}));
  }
  yGridVals.forEach(o => {
    const light = (p.light || []).some(l => Math.abs(l - o.v) / o.v < 0.01);
    mk('line', {x1: p.left, x2: p.right, y1: o.y, y2: o.y, stroke: light ? '#dedede' : '#b4b4b4', 'stroke-width': light ? 5 : 3.5}, gridG);
    mk('line', {x1: p.left - (o.m === 1 ? 14 : 8), x2: p.left, y1: o.y, y2: o.y, stroke: '#222', 'stroke-width': 3}, g);
  });
  p.xTicks.forEach((t, i) => {
    mk('line', {x1: sx(t), x2: sx(t), y1: p.bottom, y2: p.bottom + 15, stroke: '#222', 'stroke-width': 3}, g);
    const tx = mk('text', {x: sx(t) + (p.xLabelShift || 0), y: p.bottom + 62, 'text-anchor': 'middle', 'font-size': 55}, g);
    tx.textContent = p.xLabels[i];
    label(tx, 'x-tick-label-' + p.id, false);
  });
  if (p.log) {
    p.decades.forEach(d => {
      const y = sy(Math.pow(10, d));
      if (y < p.top - 2 || y > p.bottom + 2) return;
      const tx = mk('text', {x: p.labelEnd, y: y + 15, 'text-anchor': 'end', 'font-size': 55}, g);
      label(tx, 'y-tick-label-' + p.id, false);
      tx.appendChild(document.createTextNode('10'));
      const sup = mk('tspan', {dy: -22, 'font-size': 35}, tx);
      sup.textContent = String(d);
    });
  } else {
    p.yTicks.forEach(v => {
      const tx = mk('text', {x: p.labelEnd, y: sy(v) + 19, 'text-anchor': 'end', 'font-size': 55}, g);
      label(tx, 'y-tick-label-' + p.id, false);
      tx.textContent = String(v);
    });
  }
  const clip = mk('clipPath', {id: 'clip-' + p.id}, g);
  mk('rect', {x: p.left, y: p.top, width: p.right - p.left, height: p.bottom - p.top}, clip);
  const plot = mk('g', {'clip-path': 'url(#clip-' + p.id + ')'}, g);
  label(plot, 'plot-area-' + p.id, false);
  return {g: g, plot: plot, sx: sx, sy: sy};
}

function drawSpines(p, f) {
  const s = mk('rect', {x: p.left, y: p.top, width: p.right - p.left, height: p.bottom - p.top, fill: 'none', stroke: '#262626', 'stroke-width': 4.5}, f.g);
  label(s, 'axes-frame-' + p.id, false);
}

function drawBand(p, f, s) {
  const bandT = s.bandT || s.t;
  const k = s.unit || 1;
  const hiPts = polyPoints(bandT, s.hi, f.sx, f.sy, k);
  const loPts = polyPoints(bandT.slice().reverse(), s.lo.slice().reverse(), f.sx, f.sy, k);
  const band = mk('polygon', {points: hiPts + ' ' + loPts, fill: bandColors[s.color], 'fill-opacity': 0.2, stroke: bandColors[s.color], 'stroke-opacity': 0.12, 'stroke-width': 2}, f.plot);
  label(band, 'band-' + p.id + '-' + s.name, false);
}

function drawLine(p, f, s) {
  const k = s.unit || 1;
  const line = mk('polyline', {points: polyPoints(s.t, s.mean, f.sx, f.sy, k), fill: 'none', stroke: lineColors[s.color], 'stroke-width': 6.5, 'stroke-linejoin': 'round'}, f.plot);
  label(line, 'line-' + p.id + '-' + s.name, false);
}

function drawMarkers(p, f, s) {
  const k = s.unit || 1;
  s.t.forEach((x, i) => {
    const c = mk('circle', {cx: f.sx(x), cy: f.sy(s.mean[i] * k), r: 12, fill: lineColors[s.color], stroke: '#fff', 'stroke-width': 3}, f.g);
    label(c, 'point-' + p.id + '-' + s.name, false);
  });
}

const panelA = {id:'a', log:true, left:287, right:1435, top:64, bottom:996, x0:341, x1:1384, xa:0, xb:2, yTop:64, yBot:996, logTop:7, logBot:4, xTicks:timeTicks2h, xLabels:timeTickLabels2h, decades:rluDecades, labelEnd:273, light:aLightGrid};
const panelB = {id:'b', log:true, left:287, right:1435, top:1194, bottom:2127, x0:341, x1:1384, xa:0, xb:2, yTop:1194, yBot:2127, logTop:7, logBot:4, xTicks:timeTicks2h, xLabels:timeTickLabels2h, decades:rluDecades, labelEnd:273, light:bLightGrid};
const panelC = {id:'c', log:true, left:287, right:1435, top:2359, bottom:3292, x0:341, x1:1383, xa:0, xb:15, yTop:2359, yBot:3292, logTop:7, logBot:5, xTicks:concTicks, xLabels:concTickLabels, decades:rluDecadesC, labelEnd:262, light:cLightGrid};
const panelD = {id:'d', log:true, left:1818, right:2966, top:64, bottom:996, x0:1871, x1:2915, xa:0, xb:10, yTop:150, yBot:996, logTop:0, logBot:-3, xTicks:timeTicks10h, xLabels:timeTickLabels10h, decades:odDecades, labelEnd:1798, light:dLightGrid};
const panelE = {id:'e', log:true, left:1818, right:2966, top:1201, bottom:2133, x0:1871, x1:2915, xa:0, xb:10, yTop:1286, yBot:2133, logTop:0, logBot:-3, xTicks:timeTicks10h, xLabels:timeTickLabels10h, xLabelShift:-4, decades:odDecades, labelEnd:1798, light:eLightGrid};
const panelF = {id:'f', log:false, left:1818, right:2966, top:2360, bottom:3293, x0:1871, x1:2914, xa:0, xb:15, yTop:2360, yBot:3293, vTop:150, vBot:0, xTicks:concTicks, xLabels:concTickLabels, yTicks:growthTicks, labelEnd:1799};

const seriesA = [
  {name:'7.5', color:'blue', t:aTimes, mean:aMean75, lo:aLo75, hi:aHi75, unit:rluUnit},
  {name:'5.0', color:'orange', t:aTimes, mean:aMean50, lo:aLo50, hi:aHi50, unit:rluUnit},
  {name:'4.0', color:'green', t:aTimes, mean:aMean40, lo:aLo40, hi:aHi40, unit:rluUnit},
  {name:'3.0', color:'verm', t:aTimes, mean:aMean30, lo:aLo30, hi:aHi30, unit:rluUnit},
  {name:'2.0', color:'purple', t:aTimes, mean:aMean20, lo:aLo20, hi:aHi20, unit:rluUnit},
  {name:'1.0', color:'brown', t:aTimes, mean:aMean10, lo:aLo10, hi:aHi10, unit:rluUnit},
  {name:'0.0', color:'gray', t:aTimes, mean:aMean00, lo:aLo00, hi:aHi00, unit:rluUnit},
  {name:'0.5', color:'pink', t:aTimes, mean:aMean05, lo:aLo05, hi:aHi05, unit:rluUnit}
];
const seriesB = [
  {name:'15.0', color:'blue', t:bTimes, mean:bMean150, lo:bLo150, hi:bHi150, unit:rluUnit},
  {name:'12.5', color:'orange', t:bTimes, mean:bMean125, lo:bLo125, hi:bHi125, unit:rluUnit},
  {name:'10.0', color:'green', t:bTimes, mean:bMean100, lo:bLo100, hi:bHi100, unit:rluUnit},
  {name:'7.5', color:'verm', t:bTimes, mean:bMean75, lo:bLo75, hi:bHi75, unit:rluUnit},
  {name:'5.0', color:'purple', t:bTimes, mean:bMean50, lo:bLo50, hi:bHi50, unit:rluUnit},
  {name:'1.0', color:'pink', t:bTimes, mean:bMean10, lo:bLo10, hi:bHi10, unit:rluUnit},
  {name:'0.0', color:'gray', t:bTimes, mean:bMean00, lo:bLo00, hi:bHi00, unit:rluUnit},
  {name:'2.5', color:'brown', t:bTimes, mean:bMean25, lo:bLo25, hi:bHi25, unit:rluUnit}
];
const seriesC = [
  {name:'friulimicin', color:'blue', t:cConcFriu, mean:cMeanFriu, lo:cLoFriu, hi:cHiFriu, unit:rluUnit},
  {name:'laspartomycin', color:'orange', t:cConcLasp, mean:cMeanLasp, lo:cLoLasp, hi:cHiLasp, unit:rluUnit}
];
const seriesD = [
  {name:'7.5', color:'blue', t:dTimesFine, bandT:dTimes, mean:dMean75, lo:dLo75, hi:dHi75},
  {name:'5.0', color:'orange', t:dTimesFine, bandT:dTimes, mean:dMean50, lo:dLo50, hi:dHi50},
  {name:'4.0', color:'green', t:dTimesFine, bandT:dTimes, mean:dMean40, lo:dLo40, hi:dHi40},
  {name:'3.0', color:'verm', t:dTimesFine, bandT:dTimes, mean:dMean30, lo:dLo30, hi:dHi30},
  {name:'2.0', color:'purple', t:dTimes, mean:dMean20, lo:dLo20, hi:dHi20},
  {name:'1.0', color:'brown', t:dTimes, mean:dMean10, lo:dLo10, hi:dHi10},
  {name:'0.0', color:'gray', t:dTimes, mean:dMean00, lo:dLo00, hi:dHi00},
  {name:'0.5', color:'pink', t:dTimes, mean:dMean05, lo:dLo05, hi:dHi05}
];
const seriesE = [
  {name:'15.0', color:'blue', t:eTimes, mean:eMean150, lo:eLo150, hi:eHi150},
  {name:'12.5', color:'orange', t:eTimes, mean:eMean125, lo:eLo125, hi:eHi125},
  {name:'10.0', color:'green', t:eTimes, mean:eMean100, lo:eLo100, hi:eHi100},
  {name:'7.5', color:'verm', t:eTimes, mean:eMean75, lo:eLo75, hi:eHi75},
  {name:'5.0', color:'purple', t:eTimes, mean:eMean50, lo:eLo50, hi:eHi50},
  {name:'2.5', color:'brown', t:eTimes, mean:eMean25, lo:eLo25, hi:eHi25},
  {name:'1.0', color:'pink', t:eTimes, mean:eMean10, lo:eLo10, hi:eHi10},
  {name:'0.0', color:'gray', t:eTimes, mean:eMean00, lo:eLo00, hi:eHi00}
];
const seriesF = [
  {name:'friulimicin', color:'blue', t:fConcFriu, mean:fMeanFriu, lo:fLoFriu, hi:fHiFriu},
  {name:'laspartomycin', color:'orange', t:fConcLasp, mean:fMeanLasp, lo:fLoLasp, hi:fHiLasp}
];

function drawPanel(p, series, withMarkers) {
  const f = drawFrame(p);
  series.forEach(s => drawBand(p, f, s));
  series.forEach(s => drawLine(p, f, s));
  if (p.id === 'f') {
    fThreshold.forEach(v => {
      const r = mk('line', {x1: p.left, x2: p.right, y1: f.sy(v), y2: f.sy(v), stroke: '#e6102d', 'stroke-width': 8, 'stroke-dasharray': '33 35'}, f.plot);
      label(r, 'threshold-line-50-percent', false);
    });
  }
  drawSpines(p, f);
  if (p.id === 'c') {
    cErrConc.forEach((x, i) => {
      const eg = mk('g', {}, f.g);
      label(eg, 'fold-change-bar', false);
      const px = f.sx(x), t = f.sy(cErrTop[i] * rluUnit), b = f.sy(cErrBottom[i] * rluUnit);
      mk('line', {x1: px, x2: px, y1: t, y2: b, stroke: '#777', 'stroke-width': 4}, eg);
      mk('line', {x1: px - 15, x2: px + 15, y1: t, y2: t, stroke: '#777', 'stroke-width': 4}, eg);
      mk('line', {x1: px - 15, x2: px + 15, y1: b, y2: b, stroke: '#777', 'stroke-width': 4}, eg);
    });
  }
  if (withMarkers) series.forEach(s => drawMarkers(p, f, s));
}

drawPanel(panelA, seriesA, false);
drawPanel(panelB, seriesB, false);
drawPanel(panelC, seriesC, true);
drawPanel(panelD, seriesD, false);
drawPanel(panelE, seriesE, false);
drawPanel(panelF, seriesF, true);
</script>
</body>
</html>
